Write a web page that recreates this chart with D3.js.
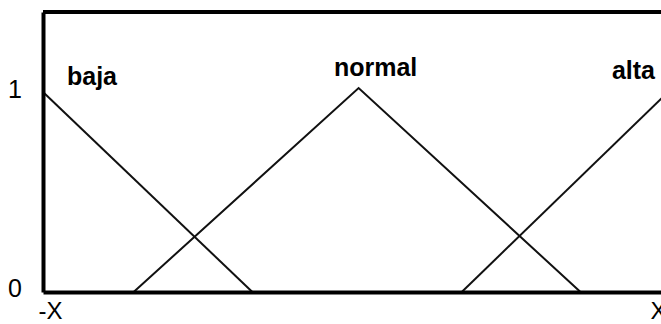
<!DOCTYPE html>
<html>
<head>
<meta charset="utf-8">
<script src="https://cdn.jsdelivr.net/npm/d3@7"></script>
<style>
    html, body { margin: 0; padding: 0; background: #fff; }
    svg { display: block; font-family: "Liberation Sans", Arial, sans-serif; }
</style>
</head>
<body>
<div id="chart"></div>
<script>
// membership functions, x in [-1, 1] (-X .. X), degree 0..1
const SETS = ["baja", "normal", "alta"]
const BAJA = [[-1, 1], [-0.33, 0]]
const NORMAL = [[-0.71, 0], [0.01, 1.02], [0.72, 0]]
const ALTA = [[0.34, 0], [1, 1]]
const Y_TICKS = [0, 1]
const X_TICKS = [-1, 1]
const X_TICK_LABELS = ["-X", "X"]

let width = 661, height = 324;

let svg = d3.select("#chart")
    .append("svg")
    .attr("width", width)
    .attr("height", height);

let x = d3.scaleLinear()
    .domain([-1, 1])
    .range([43, 668]);

let y = d3.scaleLinear()
    .domain([0, 1.4])
    .range([292, 12]);

// top border
svg.append("line")
    .attr("x1", x(-1)).attr("x2", x(1))
    .attr("y1", y(1.4)).attr("y2", y(1.4))
    .attr("stroke", "#000")
    .attr("stroke-width", 4);

let line = d3.line()
    .x(function([a]) { return x(a); })
    .y(function([_, b]) { return y(b); });

svg.selectAll("path.mf")
    .data([BAJA, NORMAL, ALTA])
    .enter()
    .append("path")
    .attr("class", "mf")
    .attr("d", line)
    .attr("fill", "none")
    .attr("stroke", "#111")
    .attr("stroke-width", 2);

let yAxis = svg.append("g")
    .attr("transform", "translate(" + x(-1) + ",0)")
    .call(d3.axisLeft(y).tickValues(Y_TICKS).tickSize(0).tickPadding(21).tickFormat(d3.format("d")));
yAxis.select(".domain").attr("stroke", "#000").attr("stroke-width", 4);
yAxis.selectAll("text")
    .attr("font-size", 25)
    .attr("font-family", "Liberation Sans, Arial, sans-serif")
    .attr("fill", "#000")
    .attr("dy", function(d) { return d === 0 ? "0.18em" : "0.22em"; });

let xAxis = svg.append("g")
    .attr("transform", "translate(0," + y(0) + ")")
    .call(d3.axisBottom(x).tickValues(X_TICKS).tickSize(0).tickPadding(10)
        .tickFormat(function(d, i) { return X_TICK_LABELS[i]; }));
xAxis.select(".domain").attr("stroke", "#000").attr("stroke-width", 4);
xAxis.selectAll("text")
    .attr("font-size", 24)
    .attr("font-family", "Liberation Sans, Arial, sans-serif")
    .attr("fill", "#000")
    .attr("text-anchor", "start")
    .attr("dx", function(d) { return d < 0 ? -5 : -18; });

// set labels next to each peak
let peaks = [BAJA[0], NORMAL[1], ALTA[1]];
let labelOffsets = [[24, -7, "start"], [17, -12, "middle"], [-13, -13, "end"]];

svg.selectAll("text.set")
    .data(SETS)
    .enter()
    .append("text")
    .attr("class", "set")
    .text(function(d) { return d; })
    .attr("x", function(d, i) { return x(peaks[i][0]) + labelOffsets[i][0]; })
    .attr("y", function(d, i) { return y(peaks[i][1]) + labelOffsets[i][1]; })
    .attr("text-anchor", function(d, i) { return labelOffsets[i][2]; })
    .attr("font-size", 25)
    .attr("font-weight", "bold")
    .attr("fill", "#000");
</script>
</body>
</html>
